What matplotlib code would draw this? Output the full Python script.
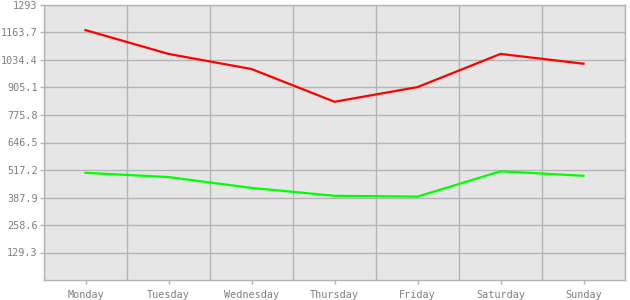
import matplotlib
matplotlib.use("Agg")
import matplotlib.pyplot as plt
from matplotlib.ticker import FixedLocator

days = ["Monday", "Tuesday", "Wednesday", "Thursday", "Friday", "Saturday", "Sunday"]
red_values = [1175, 1063, 992, 838, 907, 1063, 1017]
green_values = [504, 484, 433, 396, 392, 511, 490]
y_ticks = [129.3 * i for i in range(1, 11)]
y_labels = ["129.3", "258.6", "387.9", "517.2", "646.5", "775.8", "905.1", "1034.4", "1163.7", "1293"]

grid_color = "#b4b4b4"
text_color = "#808080"

fig = plt.figure(figsize=(6.3, 3.0), dpi=100)
ax = fig.add_axes([44 / 630, 20 / 300, 581 / 630, 275 / 300])
ax.set_facecolor("#e6e6e6")

x = list(range(len(days)))
ax.plot(x, red_values, color="#ff0000", linewidth=1.6)
ax.plot(x, green_values, color="#00ff00", linewidth=1.6)

ax.set_xlim(-0.5, len(days) - 0.5)
ax.set_ylim(0, 1293)
ax.set_xticks(x)
ax.set_xticklabels(days)
ax.xaxis.set_minor_locator(FixedLocator([i - 0.5 for i in range(len(days) + 1)]))
ax.set_yticks(y_ticks)
ax.set_yticklabels(y_labels)

ax.grid(True, which="minor", axis="x", color=grid_color, linewidth=1)
ax.grid(True, which="major", axis="y", color=grid_color, linewidth=1)
ax.set_axisbelow(True)

ax.tick_params(axis="both", which="major", colors=grid_color, length=3, width=1,
               labelcolor=text_color, labelsize=7.3, pad=1.5)
ax.tick_params(axis="x", which="major", pad=4)
ax.tick_params(axis="x", which="minor", length=0)
for label in ax.get_xticklabels() + ax.get_yticklabels():
    label.set_family("DejaVu Sans Mono")
for spine in ax.spines.values():
    spine.set_color(grid_color)
    spine.set_linewidth(1)

fig.savefig("out.png", dpi=100)
